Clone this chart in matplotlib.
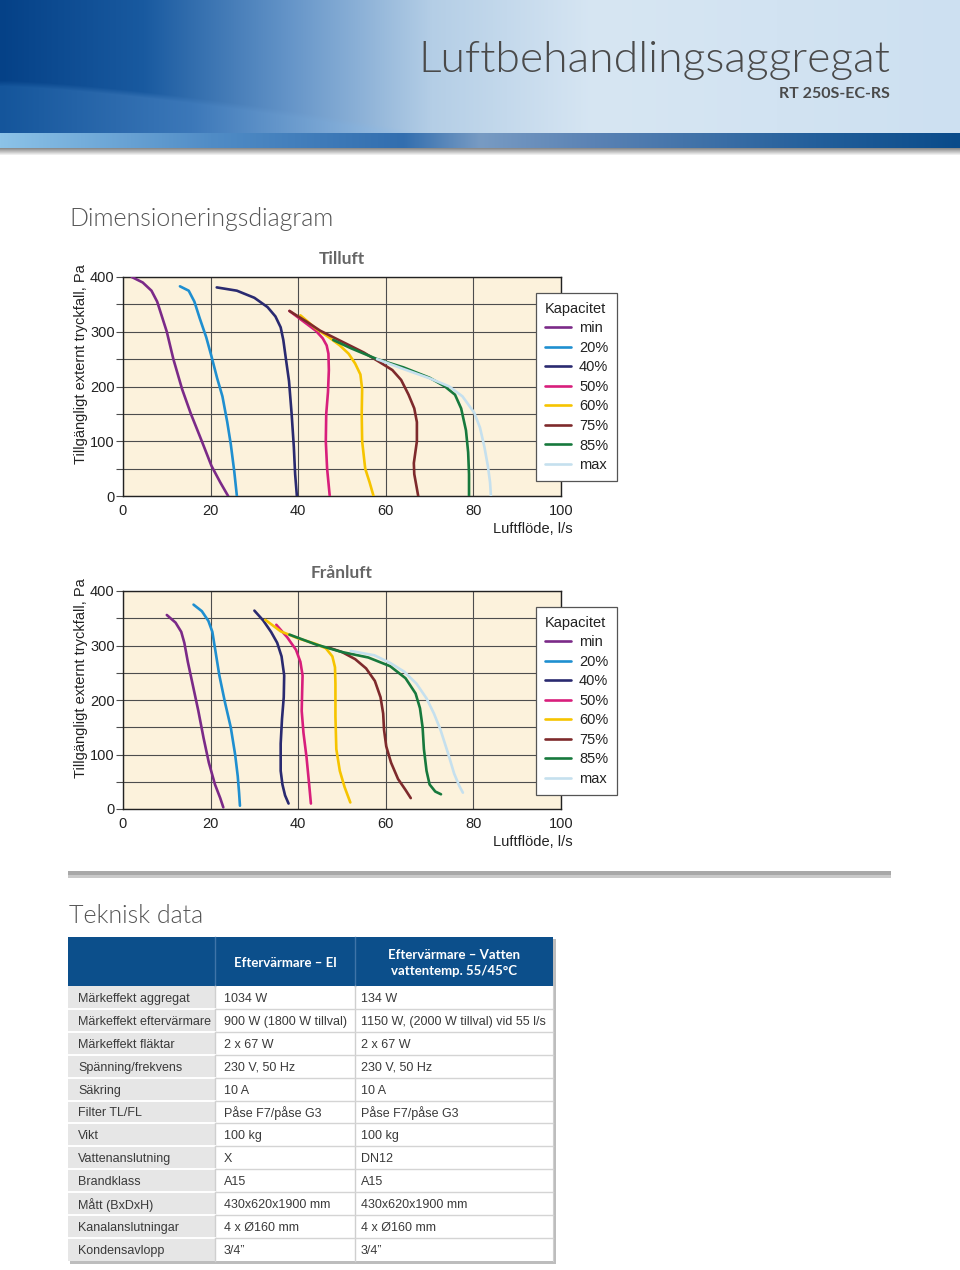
import numpy as np
import matplotlib
matplotlib.use("Agg")
import matplotlib.pyplot as plt
from matplotlib.patches import Rectangle

plt.rcParams['font.family'] = ['Liberation Sans', 'DejaVu Sans']

W, H = 960, 1270

# ------------------------------------------------------------------
# Chart data (flow l/s, available external pressure Pa)
# ------------------------------------------------------------------
capacities = ['min', '20%', '40%', '50%', '60%', '75%', '85%', 'max']
colors = ['#7b2a88', '#1f8fd0', '#2a2a70', '#d81f7c', '#f6c400',
          '#7e2a2c', '#17793d', '#c5e0ee']

# Tilluft
til_min_q = [2, 4.5, 6.5, 7.8, 8.8, 10, 11.5, 13.5, 15.5, 18, 20.2, 22.2, 24]
til_min_p = [400, 390, 375, 355, 330, 300, 250, 195, 150, 100, 55, 25, 0]
til_20_q = [13, 15, 16.3, 17.5, 19, 20.2, 21.5, 22.7, 23.8, 24.6, 25.4, 26]
til_20_p = [383, 375, 355, 325, 290, 255, 215, 182, 135, 95, 45, 0]
til_40_q = [21.4, 26, 30, 33, 34.8, 36, 36.6, 37.2, 37.9, 38.5, 39.0, 39.3, 39.7]
til_40_p = [381, 375, 362, 345, 328, 308, 285, 250, 210, 150, 90, 40, 0]
til_50_q = [38, 41, 44, 45.6, 46.5, 46.9, 47, 46.8, 46.4, 46.3, 46.6, 47.2]
til_50_p = [338, 320, 302, 288, 275, 260, 230, 190, 150, 100, 50, 0]
til_60_q = [40.5, 44, 47, 49.5, 51.5, 53, 54.2, 54.6, 54.5, 54.6, 55.3, 56.3, 57.2]
til_60_p = [330, 306, 290, 275, 260, 242, 222, 195, 150, 100, 50, 25, 0]
til_75_q = [38, 42, 45, 50, 55, 58.5, 61.5, 63.5, 65.2, 66.5, 67.1, 67.1, 66.4, 66.5, 67.4]
til_75_p = [338, 318, 302, 282, 262, 245, 230, 212, 185, 160, 135, 100, 60, 40, 0]
til_85_q = [48, 52, 58, 64, 70, 73.5, 75.8, 77.2, 78.3, 78.8, 79, 79]
til_85_p = [285, 270, 250, 235, 216, 200, 185, 160, 120, 80, 40, 0]
til_max_q = [58, 64, 70, 74.5, 77.5, 80.2, 81.5, 82.5, 83.3, 83.8, 84]
til_max_p = [250, 232, 215, 200, 182, 152, 125, 90, 55, 25, 0]

# Frånluft
fra_min_q = [10, 12, 13.3, 14, 14.8, 16, 17.2, 18.4, 19.6, 21, 22.2, 22.9]
fra_min_p = [356, 342, 325, 305, 270, 225, 180, 130, 85, 45, 20, 3]
fra_20_q = [16.1, 18, 19.5, 20.4, 21, 22, 23.3, 24.6, 25.6, 26.2, 26.5, 26.7]
fra_20_p = [375, 363, 345, 325, 295, 245, 195, 150, 100, 60, 30, 6]
fra_40_q = [30, 32, 33.8, 35.2, 36.2, 36.8, 36.7, 36.3, 36.0, 36.0, 36.4, 37.0, 37.8]
fra_40_p = [364, 346, 325, 305, 280, 245, 205, 165, 120, 70, 45, 25, 10]
fra_50_q = [35, 37.5, 39.5, 40.5, 41, 40.9, 40.8, 41.2, 41.9, 42.5, 42.9]
fra_50_p = [338, 315, 292, 270, 245, 215, 180, 140, 95, 45, 10]
fra_60_q = [32.5, 36, 40, 44, 46.3, 47.8, 48.4, 48.5, 48.5, 48.7, 49.5, 50.6, 51.9]
fra_60_p = [347, 326, 313, 303, 295, 280, 260, 230, 170, 110, 70, 40, 12]
fra_75_q = [47, 50, 53, 55.5, 57.5, 58.8, 59.4, 59.6, 60.1, 61.2, 62.8, 64.5, 65.7]
fra_75_p = [296, 288, 275, 258, 235, 205, 175, 145, 115, 85, 55, 35, 20]
fra_85_q = [38, 44, 50, 56, 61, 64.5, 66.8, 67.8, 68.4, 68.7, 69.3, 70.0, 71.3, 72.6]
fra_85_p = [320, 302, 288, 278, 262, 240, 212, 185, 150, 110, 70, 45, 32, 27]
fra_max_q = [52, 57.4, 61, 64.2, 67, 69.3, 71, 72.5, 74.3, 75.6, 76.8, 77.6]
fra_max_p = [290, 282, 268, 252, 230, 203, 175, 145, 100, 65, 42, 30]

tilluft = [(til_min_q, til_min_p), (til_20_q, til_20_p), (til_40_q, til_40_p),
           (til_50_q, til_50_p), (til_60_q, til_60_p), (til_75_q, til_75_p),
           (til_85_q, til_85_p), (til_max_q, til_max_p)]
franluft = [(fra_min_q, fra_min_p), (fra_20_q, fra_20_p), (fra_40_q, fra_40_p),
            (fra_50_q, fra_50_p), (fra_60_q, fra_60_p), (fra_75_q, fra_75_p),
            (fra_85_q, fra_85_p), (fra_max_q, fra_max_p)]

x_ticks = [0, 20, 40, 60, 80, 100]
y_ticks = [0, 100, 200, 300, 400]

# ------------------------------------------------------------------
# Table data
# ------------------------------------------------------------------
col_headers = ['Eftervärmare – El', 'Eftervärmare – Vatten\nvattentemp. 55/45°C']
row_labels = ['Märkeffekt aggregat', 'Märkeffekt eftervärmare', 'Märkeffekt fläktar',
              'Spänning/frekvens', 'Säkring', 'Filter TL/FL', 'Vikt',
              'Vattenanslutning', 'Brandklass', 'Mått (BxDxH)',
              'Kanalanslutningar', 'Kondensavlopp']
col_el = ['1034 W', '900 W (1800 W tillval)', '2 x 67 W', '230 V, 50 Hz', '10 A',
          'Påse F7/påse G3', '100 kg', 'X', 'A15', '430x620x1900 mm',
          '4 x Ø160 mm', '3/4”']
col_vatten = ['134 W', '1150 W, (2000 W tillval) vid 55 l/s', '2 x 67 W',
              '230 V, 50 Hz', '10 A', 'Påse F7/påse G3', '100 kg', 'DN12', 'A15',
              '430x620x1900 mm', '4 x Ø160 mm', '3/4”']

fig = plt.figure(figsize=(9.6, 12.7), dpi=100)
fig.patch.set_facecolor('white')

# page axes in pixel coordinates (y down)
page = fig.add_axes([0, 0, 1, 1])
page.set_xlim(0, W)
page.set_ylim(H, 0)
page.axis('off')


def ramp(stops, n):
    pos = [s[0] for s in stops]
    t = np.linspace(0, 1, n)
    return np.stack([np.interp(t, pos, [s[1][k] for s in stops]) for k in range(3)], axis=-1) / 255.0


# header gradient
hh = 133
top = ramp([(0, (5, 65, 135)), (0.15, (25, 90, 160)), (0.3, (100, 148, 200)),
            (0.45, (180, 206, 230)), (0.62, (215, 230, 243)), (1, (205, 224, 241))], W)
low = ramp([(0, (20, 85, 155)), (0.2, (60, 120, 185)), (0.38, (140, 180, 220)),
            (0.55, (215, 232, 245)), (1, (210, 228, 243))], W)
xx = np.arange(W)
curve = 80 + 60 * np.clip(xx / 470.0, 0, None) ** 1.4
yy = np.arange(hh)[:, None]
blend = np.clip((yy - curve[None, :]) / 6.0, 0, 1)[..., None]
header = top[None, :, :] * (1 - blend) + low[None, :, :] * blend
page.imshow(header, extent=(0, W, hh, 0), aspect='auto', zorder=0)

stripe = ramp([(0, (140, 195, 232)), (0.22, (80, 140, 198)), (0.42, (50, 110, 175)),
               (0.5, (120, 155, 195)), (0.62, (90, 130, 180)), (0.85, (35, 95, 155)),
               (1, (10, 75, 138))], W)
page.imshow(np.repeat(stripe[None, :, :], 2, axis=0), extent=(0, W, 148, hh),
            aspect='auto', zorder=0)
shadow = np.linspace(0.55, 1.0, 8)[:, None, None] * np.ones((1, 2, 3))
page.imshow(shadow, extent=(0, W, 156, 148), aspect='auto', zorder=0)

page.text(890, 72, 'Luftbehandlingsaggregat', ha='right', va='baseline',
          fontsize=32, color='#4a4a4a', family=['Lato', 'DejaVu Sans'], fontweight=300)
page.text(890, 98, 'RT 250S-EC-RS', ha='right', va='baseline',
          fontsize=11.5, color='#4a4a4a', family=['Lato', 'DejaVu Sans'], fontweight='bold')

page.text(69, 226, 'Dimensioneringsdiagram', ha='left', va='baseline',
          fontsize=18, color='#555555', family=['Lato', 'DejaVu Sans'], fontweight=300)
page.text(69, 923, 'Teknisk data', ha='left', va='baseline',
          fontsize=18, color='#555555', family=['Lato', 'DejaVu Sans'], fontweight=300)

# separator rule
page.add_patch(Rectangle((68, 871), 823, 7, color='#a8a8a8', lw=0, zorder=1))
page.add_patch(Rectangle((68, 875), 823, 3, color='#c9c9c9', lw=0, zorder=1))


def draw_chart(rect, title, series):
    ax = fig.add_axes(rect)
    ax.set_facecolor('#fcf2dc')
    for (q, p), c, lab in zip(series, colors, capacities):
        ax.plot(q, p, color=c, lw=1.9, label=lab, solid_capstyle='round',
                solid_joinstyle='round', zorder=3)
    ax.set_xlim(0, 100)
    ax.set_ylim(0, 400)
    ax.set_xticks(x_ticks)
    ax.set_yticks(y_ticks)
    ax.set_yticks([50, 150, 250, 350], minor=True)
    ax.grid(True, which='both', color='#4d4d4d', lw=0.8, zorder=1)
    ax.set_axisbelow(True)
    for s in ax.spines.values():
        s.set_color('#222222')
        s.set_linewidth(1.0)
    ax.tick_params(axis='x', length=0, pad=6, labelsize=10.5, labelcolor='#222222')
    ax.tick_params(axis='y', which='both', direction='out', length=5, width=0.8,
                   color='#4d4d4d', pad=1, labelsize=10.5, labelcolor='#222222')
    ax.set_ylabel('Tillgängligt externt tryckfall, Pa', fontsize=10.5, color='#222222')
    ax.yaxis.set_label_coords(-0.08, 0.6)
    ax.text(1.027, -0.152, 'Luftflöde, l/s', transform=ax.transAxes, ha='right',
            va='center', fontsize=10.5, color='#222222')
    ax.set_title(title, fontsize=12.5, color='#666666', fontweight='bold',
                 family=['Lato', 'DejaVu Sans'], pad=9)
    leg = ax.legend(title='Kapacitet', loc='upper left', bbox_to_anchor=(0.943, 0.927),
                    borderaxespad=0, frameon=True, fancybox=False, framealpha=1,
                    edgecolor='#555555', fontsize=10.5, title_fontsize=10.5,
                    handlelength=1.8, handletextpad=0.55, labelspacing=0.38,
                    borderpad=0.6, alignment='left')
    leg.get_frame().set_linewidth(0.9)
    for t in leg.get_texts():
        t.set_color('#222222')
    leg.get_title().set_color('#222222')
    return ax


draw_chart([123 / W, 1 - 496 / H, 438 / W, 219 / H], 'Tilluft', tilluft)
draw_chart([123 / W, 1 - 809 / H, 438 / W, 218 / H], 'Frånluft', franluft)

# ------------------------------------------------------------------
# Table
# ------------------------------------------------------------------
cx = [68, 215, 355, 553]
head_top, head_bot = 937, 986
row_h = 22.9
n = len(row_labels)
tab_bot = head_bot + n * row_h

page.add_patch(Rectangle((cx[0] + 2, head_top + 2), cx[3] - cx[0] + 1, tab_bot - head_top + 1,
                         color='#bdbdbd', lw=0, zorder=1))
page.add_patch(Rectangle((cx[0], head_top), cx[3] - cx[0], head_bot - head_top,
                         color='#0c4f8b', lw=0, zorder=2))
page.add_patch(Rectangle((cx[0], head_bot), cx[1] - cx[0], tab_bot - head_bot,
                         color='#e6e6e6', lw=0, zorder=2))
page.add_patch(Rectangle((cx[1], head_bot), cx[3] - cx[1], tab_bot - head_bot,
                         color='white', lw=0, zorder=2))
for x in cx[1:3]:
    page.plot([x, x], [head_top, head_bot], color='#3f74a8', lw=1, zorder=3)
    page.plot([x, x], [head_bot, tab_bot], color='#cfcfcf', lw=1, zorder=3)
for i in range(1, n):
    y = head_bot + i * row_h
    page.plot([cx[0], cx[1]], [y, y], color='white', lw=1.4, zorder=3)
    page.plot([cx[1], cx[3]], [y, y], color='#d4d4d4', lw=1, zorder=3)
page.plot([cx[3], cx[3]], [head_bot, tab_bot], color='#cfcfcf', lw=0.8, zorder=3)

for j, txt in enumerate(col_headers):
    page.text((cx[j + 1] + cx[j + 2]) / 2, (head_top + head_bot) / 2 + 1.5, txt,
              ha='center', va='center', color='white', fontsize=9.5, fontweight='bold',
              family=['Lato', 'DejaVu Sans'], linespacing=1.35, zorder=4)

for i in range(n):
    y = head_bot + (i + 0.5) * row_h + 1.5
    page.text(78, y, row_labels[i], ha='left', va='center', fontsize=9, color='#3a3a3a', zorder=4)
    page.text(224, y, col_el[i], ha='left', va='center', fontsize=9, color='#3a3a3a', zorder=4)
    page.text(361, y, col_vatten[i], ha='left', va='center', fontsize=9, color='#3a3a3a', zorder=4)

fig.savefig('out.png', dpi=100, facecolor='white')
